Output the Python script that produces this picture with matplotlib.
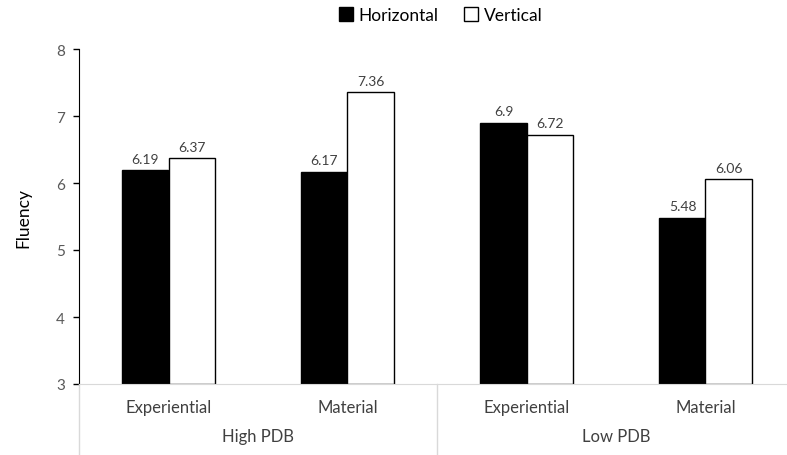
import numpy as np
import matplotlib.pyplot as plt
from matplotlib.patches import Patch

# Fluency ratings by product type, power distance belief and layout
groups = ["High PDB", "Low PDB"]
products = ["Experiential", "Material", "Experiential", "Material"]
horizontal = [6.19, 6.17, 6.9, 5.48]
vertical = [6.37, 7.36, 6.72, 6.06]
yticks = [3, 4, 5, 6, 7, 8]

plt.rcParams['font.family'] = ['Lato', 'DejaVu Sans']

fig = plt.figure(figsize=(7.87, 4.56), dpi=100)
ax = fig.add_axes([79/787, 1 - 385/456, 1 - 79/787, 335/456])

bw = 0.257
x = np.arange(len(products)) + 0.5
ax.bar(x - bw/2, [h - 3 for h in horizontal], bw, bottom=3, color="black",
       edgecolor="black", linewidth=1)
ax.bar(x + bw/2, [v - 3 for v in vertical], bw, bottom=3, color="white",
       edgecolor="black", linewidth=1)

for xi, h, v in zip(x, horizontal, vertical):
    ax.text(xi - bw/2, h + 0.08, f"{h:g}", ha="center", va="bottom",
            fontsize=10, color="#404040")
    ax.text(xi + bw/2, v + 0.08, f"{v:g}", ha="center", va="bottom",
            fontsize=10, color="#404040")

ax.set_ylim(3, 8)
ax.set_xlim(0, (787 - 79) / 179)
ax.set_yticks(yticks)
ax.set_yticklabels([str(t) for t in yticks], color="#595959", fontsize=11)
ax.tick_params(axis="y", direction="out", length=4, width=1, color="black", pad=6)
ax.set_xticks([])
for s in ["top", "right"]:
    ax.spines[s].set_visible(False)
ax.spines["left"].set_color("black")
ax.spines["bottom"].set_color("#d9d9d9")
ax.set_ylabel("Fluency", fontsize=12.5, color="black", labelpad=18)

# two-level category axis below the plot
for xi, name in zip(x, products):
    ax.text(xi, -0.07, name, transform=ax.get_xaxis_transform(), ha="center",
            va="center", fontsize=12, color="#404040")
for gi, name in enumerate(groups):
    ax.text(1 + 2 * gi, -0.155, name, transform=ax.get_xaxis_transform(),
            ha="center", va="center", fontsize=12, color="#404040")
for xs in [0, 2, 4]:
    ax.plot([xs, xs], [0, -0.3], transform=ax.get_xaxis_transform(),
            color="#d9d9d9", lw=1, clip_on=False)

handles = [Patch(facecolor="black", edgecolor="black", label="Horizontal"),
           Patch(facecolor="white", edgecolor="black", label="Vertical")]
fig.legend(handles=handles, loc="center", bbox_to_anchor=(0.56, 0.965), ncol=2,
           frameon=False, fontsize=12.5, handlelength=0.8, handleheight=0.8,
           handletextpad=0.3, columnspacing=1.5)

fig.savefig("out.png", dpi=100)
